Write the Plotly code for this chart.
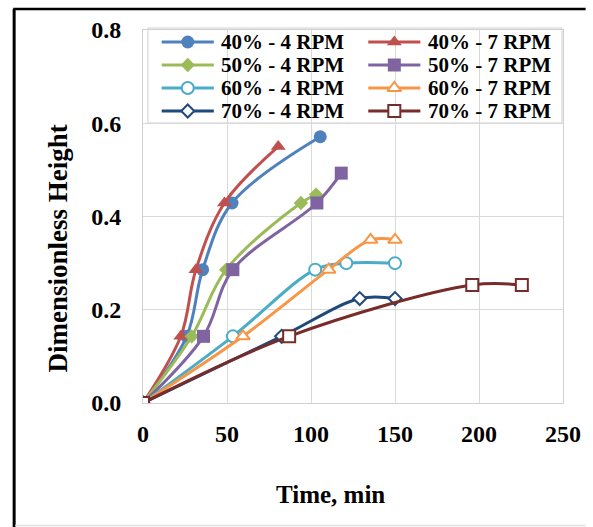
import plotly.graph_objects as go

# Dimensionless height vs. time for four fill levels at two rotation speeds
series_names = [
    "40% - 4 RPM", "40% - 7 RPM",
    "50% - 4 RPM", "50% - 7 RPM",
    "60% - 4 RPM", "60% - 7 RPM",
    "70% - 4 RPM", "70% - 7 RPM",
]

t_40_4 = [0, 26, 35.5, 53, 105.5]
h_40_4 = [0, 0.143, 0.286, 0.429, 0.571]

t_40_7 = [0, 22.5, 31.5, 48.5, 80.5]
h_40_7 = [0, 0.143, 0.286, 0.429, 0.55]

t_50_4 = [0, 29, 49.5, 94, 103]
h_50_4 = [0, 0.143, 0.286, 0.429, 0.447]

t_50_7 = [0, 36, 53.5, 103.5, 118]
h_50_7 = [0, 0.143, 0.286, 0.429, 0.493]

t_60_4 = [0, 53.5, 102.5, 121, 150]
h_60_4 = [0, 0.143, 0.286, 0.30, 0.30]

t_60_7 = [0, 59.5, 110.5, 135.5, 150]
h_60_7 = [0, 0.143, 0.286, 0.35, 0.35]

t_70_4 = [0, 82.5, 129, 150]
h_70_4 = [0, 0.143, 0.224, 0.224]

t_70_7 = [0, 87, 196, 225.5]
h_70_7 = [0, 0.143, 0.253, 0.253]

times = [t_40_4, t_40_7, t_50_4, t_50_7, t_60_4, t_60_7, t_70_4, t_70_7]
heights = [h_40_4, h_40_7, h_50_4, h_50_7, h_60_4, h_60_7, h_70_4, h_70_7]

colors = ["#4F81BD", "#C0504D", "#9BBB59", "#8064A2",
          "#4BACC6", "#F79646", "#1F497D", "#772C2A"]
symbols = ["circle", "triangle-up", "diamond", "square",
           "circle", "triangle-up", "diamond", "square"]
sizes = [13, 13, 11, 13, 12, 12, 10, 12]
hollow = [False, False, False, False, True, True, True, True]

# Canvas and plot-area geometry (pixels)
W, H = 593, 527
ML, MR, MT, MB = 143, 23, 30, 124
PW, PH = W - ML - MR, H - MT - MB


def px_x(p):
    return (p - ML) / PW


def px_y(p):
    return 1 - (p - MT) / PH


font_family = "Liberation Serif, Times New Roman, serif"

fig = go.Figure()
for name, t, h, c, s, sz, hol in zip(series_names, times, heights, colors,
                                      symbols, sizes, hollow):
    fig.add_trace(go.Scatter(
        x=t, y=h, name=name, mode="lines+markers", showlegend=False,
        line=dict(color=c, width=3, shape="spline", smoothing=1),
        marker=dict(symbol=s, size=sz,
                    color="white" if hol else c,
                    line=dict(color=c, width=2 if hol else 0)),
    ))

# Two-column legend box drawn on a pixel-unit overlay axis
leg_box = dict(x0=148, x1=569, y0=28, y1=123)
col_line_x = [162, 372]      # swatch start for each column
swatch_len = 53
col_text_x = [220, 431]
row_y = [42, 65, 88, 111]

for i, (name, c, s, sz, hol) in enumerate(zip(series_names, colors, symbols,
                                              sizes, hollow)):
    col, row = i % 2, i // 2
    x0 = col_line_x[col]
    yc = row_y[row]
    fig.add_trace(go.Scatter(
        x=[x0, x0 + swatch_len / 2, x0 + swatch_len], y=[yc, yc, yc],
        xaxis="x2", yaxis="y2", mode="lines+markers", showlegend=False,
        hoverinfo="skip", cliponaxis=False,
        line=dict(color=c, width=3),
        marker=dict(symbol=s, size=[0, sz, 0], opacity=[0, 1, 0],
                    color="white" if hol else c,
                    line=dict(color=c, width=2 if hol else 0)),
    ))
    fig.add_annotation(
        text=name, xref="paper", yref="paper",
        x=px_x(col_text_x[col]), y=px_y(yc), showarrow=False,
        xanchor="left", yanchor="middle",
        font=dict(family=font_family, size=21, color="black", weight="bold"),
    )

fig.add_shape(type="rect", xref="paper", yref="paper", layer="between",
              x0=px_x(leg_box["x0"]), x1=px_x(leg_box["x1"]),
              y0=px_y(leg_box["y0"]), y1=px_y(leg_box["y1"]),
              fillcolor="white", line=dict(color="#d0d0d0", width=1))

fig.update_layout(
    width=W, height=H,
    margin=dict(l=ML, r=MR, t=MT, b=MB),
    paper_bgcolor="white", plot_bgcolor="white",
    font=dict(family=font_family, color="black"),
    showlegend=False,
    xaxis=dict(
        range=[0, 250], dtick=50, tick0=0,
        showgrid=True, gridcolor="#d9d9d9", gridwidth=1,
        showline=True, linecolor="#d0d0d0", linewidth=1, mirror=True,
        zeroline=False, ticks="",
        ticklabelstandoff=9,
        tickfont=dict(family=font_family, size=24, color="black", weight="bold"),
    ),
    yaxis=dict(
        range=[0, 0.8], dtick=0.2, tick0=0, tickformat=".1f",
        showgrid=True, gridcolor="#d9d9d9", gridwidth=1,
        showline=True, linecolor="#d0d0d0", linewidth=1, mirror=True,
        zeroline=False, ticks="",
        ticklabelstandoff=16,
        tickfont=dict(family=font_family, size=24, color="black", weight="bold"),
    ),
    xaxis2=dict(overlaying="x", range=[ML, W - MR], visible=False,
                fixedrange=True),
    yaxis2=dict(overlaying="y", range=[H - MB, MT], visible=False,
                fixedrange=True),
)

# Axis titles
fig.add_annotation(
    text="Dimensionless Height", xref="paper", yref="paper",
    x=px_x(57), y=px_y(248), textangle=-90, showarrow=False,
    xanchor="center", yanchor="middle",
    font=dict(family=font_family, size=27, color="black", weight="bold"),
)
fig.add_annotation(
    text="Time, min", xref="paper", yref="paper",
    x=px_x(334), y=px_y(494), showarrow=False,
    xanchor="center", yanchor="middle",
    font=dict(family=font_family, size=25, color="black", weight="bold"),
)

# Outer frame
fig.add_shape(type="line", xref="paper", yref="paper",
              x0=px_x(11), x1=px_x(593), y0=px_y(9), y1=px_y(9),
              line=dict(color="black", width=2.5))
fig.add_shape(type="line", xref="paper", yref="paper",
              x0=px_x(12), x1=px_x(12), y0=px_y(9), y1=px_y(527),
              line=dict(color="black", width=3))
fig.add_shape(type="line", xref="paper", yref="paper",
              x0=px_x(13), x1=px_x(593), y0=px_y(525.5), y1=px_y(525.5),
              line=dict(color="#e0e0e0", width=1.5))

fig.write_html("out.html")
